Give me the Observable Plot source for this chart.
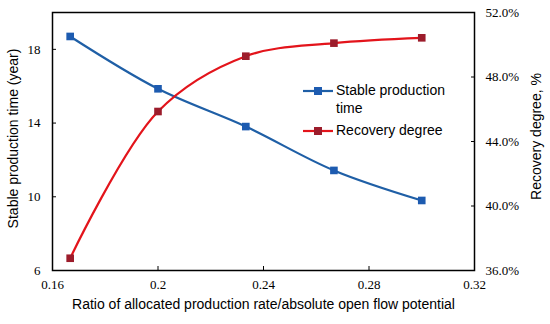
<!DOCTYPE html>
<html><head><meta charset="utf-8">
<script src="https://cdn.jsdelivr.net/npm/d3@7"></script>
<script src="https://cdn.jsdelivr.net/npm/@observablehq/plot@0.6"></script>
<style>
body{margin:0;background:#fff}
#wrap{position:relative;width:550px;height:324px;overflow:hidden}
#wrap svg text{font-family:"Liberation Serif","Times New Roman",serif !important;font-size:13px !important}
#wrap svg g[aria-label="text"] text{font-family:"Liberation Sans",Arial,sans-serif !important;font-size:14px !important}
.legend{position:absolute;left:303px;top:81px;font-family:"Liberation Sans",Arial,sans-serif;font-size:14px;color:#000;line-height:18px}
.legend .row{position:relative;padding-left:33px}
.legend svg{position:absolute;left:0;top:3px}
</style></head><body><div id="wrap"></div>
<script>
const ratio = [0.1667, 0.2, 0.2333, 0.2667, 0.3];
const stableTime = [18.7, 15.86, 13.81, 11.43, 9.8];
const recovery = [36.76, 45.86, 49.29, 50.10, 50.43];
const xTicks = [0.16, 0.2, 0.24, 0.28, 0.32];
const leftTicks = [6, 10, 14, 18];
const rightTicks = [36, 40, 44, 48, 52];
const leftDomain = [6, 20];
const rightDomain = [36, 52];
const seriesNames = ["Stable production time", "Recovery degree"];
const xLabel = "Ratio of allocated production rate/absolute open flow potential";
const yLeftLabel = "Stable production time (year)";
const yRightLabel = "Recovery degree, %";

const toLeft = v => leftDomain[0] + (v - rightDomain[0]) / (rightDomain[1] - rightDomain[0]) * (leftDomain[1] - leftDomain[0]);
const fromLeft = v => rightDomain[0] + (v - leftDomain[0]) / (leftDomain[1] - leftDomain[0]) * (rightDomain[1] - rightDomain[0]);

const blueLine = "#1f5fa6", blueMark = "#1d5bb0";
const redLine = "#e3141b", redMark = "#9c1c2b";

const timeData = ratio.map((x, i) => ({x, y: stableTime[i]}));
const recData = ratio.map((x, i) => ({x, y: toLeft(recovery[i])}));

const sans = "'Liberation Sans',Arial,sans-serif";

const chart = Plot.plot({
  width: 550, height: 324,
  marginLeft: 52, marginRight: 76, marginTop: 12, marginBottom: 54,
  style: {background: "#fff", color: "#000", overflow: "visible"},
  x: {domain: [0.16, 0.32]},
  y: {domain: leftDomain},
  marks: [
    Plot.axisX({ticks: xTicks, tickSize: -4, tickPadding: 13, tickFormat: d => String(d), label: null}),
    Plot.axisY({anchor: "left", ticks: leftTicks, tickSize: -4, tickPadding: 16, tickFormat: d => String(d), label: null}),
    Plot.axisY({anchor: "right", ticks: rightTicks.map(toLeft), tickSize: -4, tickPadding: 15, tickFormat: d => fromLeft(d).toFixed(1) + "%", label: null}),
    Plot.frame({stroke: "#000", strokeWidth: 1.5}),
    Plot.line(timeData, {x: "x", y: "y", stroke: blueLine, strokeWidth: 2.2, curve: "catmull-rom"}),
    Plot.line(recData, {x: "x", y: "y", stroke: redLine, strokeWidth: 2.2, curve: "catmull-rom"}),
    Plot.dot(timeData, {x: "x", y: "y", symbol: "square", r: 4.3, fill: blueMark, stroke: null}),
    Plot.dot(recData, {x: "x", y: "y", symbol: "square", r: 4.3, fill: redMark, stroke: null}),
    Plot.text([xLabel], {frameAnchor: "bottom", textAnchor: "middle", dy: 38, text: d => d, fontFamily: sans, fontSize: 14, fill: "#000"}),
    Plot.text([yLeftLabel], {frameAnchor: "left", textAnchor: "middle", dx: -39, dy: -3, rotate: -90, text: d => d, fontFamily: sans, fontSize: 14, fill: "#000"}),
    Plot.text([yRightLabel], {frameAnchor: "right", textAnchor: "middle", dx: 62, dy: -5, rotate: -90, text: d => d, fontFamily: sans, fontSize: 14, fill: "#000"})
  ]
});
const wrap = document.getElementById("wrap");
wrap.appendChild(chart);

// legend
const legend = document.createElement("div");
legend.className = "legend";
const items = [
  {name: seriesNames[0], line: blueLine, mark: blueMark, html: "Stable production<br>time"},
  {name: seriesNames[1], line: redLine, mark: redMark, html: "Recovery degree"}
];
items.forEach((it, i) => {
  const row = document.createElement("div");
  row.className = "row";
  if (i > 0) row.style.marginTop = "4px";
  row.innerHTML = `<svg width="30" height="14"><line x1="0" y1="7" x2="30" y2="7" stroke="${it.line}" stroke-width="2.2"/><rect x="11" y="3" width="8" height="8" fill="${it.mark}"/></svg>${it.html}`;
  legend.appendChild(row);
});
wrap.appendChild(legend);
</script>
</body></html>
